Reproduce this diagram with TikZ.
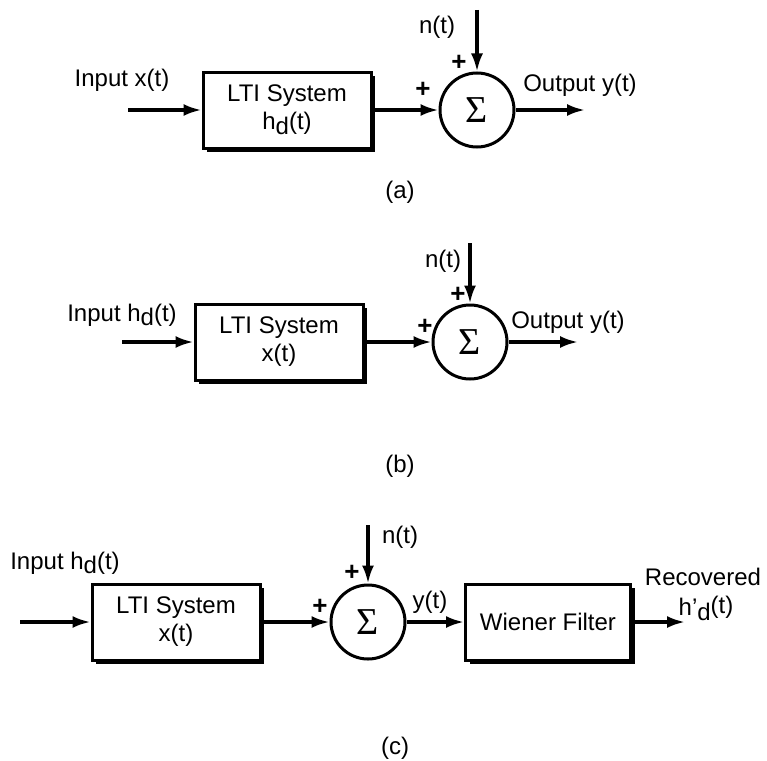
\documentclass[tikz,border=0pt]{standalone}
\usepackage{fontspec}
\setmainfont{Liberation Sans}
\newfontfamily\sigmafont{Liberation Serif}
\usetikzlibrary{arrows.meta,shadows}
\newcommand{\hsig}[1]{h#1\raisebox{-0.35ex}{d}(t)}

\begin{document}
\begin{tikzpicture}[x=1pt,y=-1pt,font=\fontsize{24}{28}\selectfont,
  sig/.style={line width=3.2pt,-{Latex[length=18pt,width=12pt]}},
  sysbox/.style={draw,line width=3pt,fill=white,minimum width=168pt,minimum height=76pt,
    align=center,drop shadow={shadow xshift=4pt,shadow yshift=-4pt,opacity=1,fill=black}},
  sumnode/.style={circle,draw,line width=3pt,fill=white,minimum size=74pt,
    font=\sigmafont\fontsize{38}{38}\selectfont},
  plus/.style={font=\fontsize{26}{26}\selectfont\bfseries}]
  \useasboundingbox (0,0) rectangle (767,760);

  \node[sysbox] (ltia) at (287,110) {LTI System\\\hsig{}};
  \node[sumnode] (suma) at (477,110) {Σ};
  \coordinate (ina) at (128,110);
  \coordinate (noisea) at (477,10);
  \coordinate (outa) at (585,110);
  \draw[sig] (ina) -- (ltia);
  \draw[sig] (ltia) -- (suma);
  \draw[sig] (noisea) -- (suma);
  \draw[sig] (suma) -- (outa);
  \node (inputa) at (122,80) {Input x(t)};
  \node (noiselabela) at (437,27) {n(t)};
  \node[plus] (plustopa) at (459,63) {+};
  \node[plus] (plusleft) at (423,90) {+};
  \node (outputa) at (580,85) {Output y(t)};
  \node (capa) at (400,192) {(a)};

  \node[sysbox] (ltib) at (279,342) {LTI System\\x(t)};
  \node[sumnode] (sumb) at (470,342) {Σ};
  \coordinate (inb) at (122,342);
  \coordinate (noiseb) at (470,243);
  \coordinate (outb) at (578,342);
  \draw[sig] (inb) -- (ltib);
  \draw[sig] (ltib) -- (sumb);
  \draw[sig] (noiseb) -- (sumb);
  \draw[sig] (sumb) -- (outb);
  \node (inputb) at (122,315) {Input \hsig{}};
  \node (noiselabelb) at (443,261) {n(t)};
  \node[plus] (plustopb) at (458,295) {+};
  \node[plus] (plusleftb) at (425,327) {+};
  \node (outputb) at (568,322) {Output y(t)};
  \node (capb) at (400,466) {(b)};

  \node[sysbox] (ltic) at (176,622) {LTI System\\x(t)};
  \node[sumnode] (sumc) at (368,622) {Σ};
  \node[sysbox,minimum width=165pt] (wiener) at (548,622) {Wiener Filter};
  \coordinate (inc) at (20,622);
  \coordinate (noisec) at (368,525);
  \coordinate (outc) at (685,622);
  \draw[sig] (inc) -- (ltic);
  \draw[sig] (ltic) -- (sumc);
  \draw[sig] (noisec) -- (sumc);
  \draw[sig] (sumc) -- (wiener);
  \draw[sig] (wiener) -- (outc);
  \node (inputc) at (65,563) {Input \hsig{}};
  \node (noiselabelc) at (400,537) {n(t)};
  \node[plus] (plustopc) at (352,573) {+};
  \node[plus] (plusleftc) at (320,607) {+};
  \node (ylabel) at (430,602) {y(t)};
  \node (recovered) at (703,577) {Recovered};
  \node (hrec) at (706,608) {h'\raisebox{-0.35ex}{d}\raisebox{0.2ex}{(t)}};
  \node (capc) at (395,748) {(c)};
\end{tikzpicture}
\end{document}
